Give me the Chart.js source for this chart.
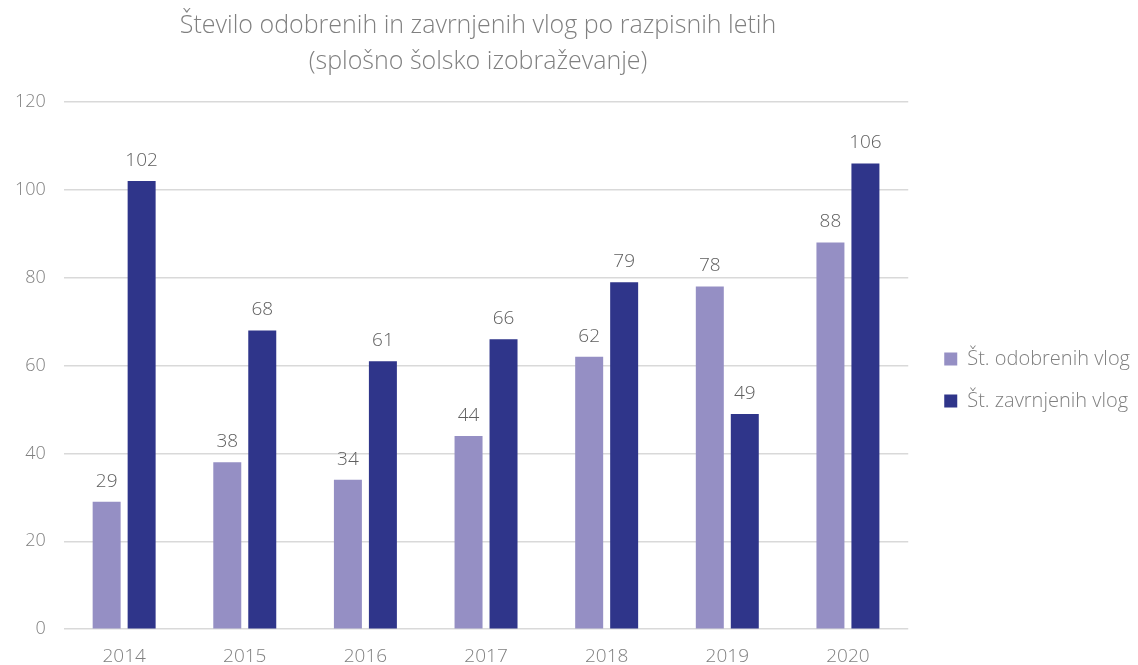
<!DOCTYPE html>
<html>
<head>
<meta charset="utf-8">
<script src="https://cdn.jsdelivr.net/npm/chart.js@4"></script>
<style>
  html, body { margin:0; padding:0; background:#fff; }
  #wrap { width:1138px; height:665px; }
</style>
</head>
<body>
<div id="wrap"><canvas id="chart" width="1138" height="665"></canvas></div>
<script>
const years = ["2014","2015","2016","2017","2018","2019","2020"];
const odobrene = [29, 38, 34, 44, 62, 78, 88];
const zavrnjene = [102, 68, 61, 66, 79, 49, 106];
const titleLines = ["Število odobrenih in zavrnjenih vlog po razpisnih letih", "(splošno šolsko izobraževanje)"];

const FONT = "'Open Sans', Lato, sans-serif";

// draws the value above each bar
const valueLabels = {
  id: "valueLabels",
  afterDatasetsDraw(chart){
    const ctx = chart.ctx;
    ctx.save();
    ctx.font = "300 19px " + FONT;
    ctx.fillStyle = "#606060";
    ctx.textAlign = "center";
    ctx.textBaseline = "bottom";
    chart.data.datasets.forEach((ds, i) => {
      chart.getDatasetMeta(i).data.forEach((bar, j) => {
        ctx.fillText(ds.data[j], bar.x, bar.y - 11);
      });
    });
    ctx.restore();
  }
};

// leave a wider gap between plot and legend, drop the legend a bit,
// and nudge the title left like the original
const legendGap = {
  id: "legendGap",
  afterInit(chart){
    const lg = chart.legend;
    const fit = lg.fit;
    lg.fit = function(){ fit.call(this); this.width += 12; };
  },
  afterLayout(chart){
    const lg = chart.legend;
    lg.left += 14;
    lg.top += 38;
    lg.bottom += 38;
    if (chart.titleBlock){
      chart.titleBlock.left -= 8;
      chart.titleBlock.right -= 8;
    }
  }
};

new Chart(document.getElementById("chart"), {
  type: "bar",
  data: {
    labels: years,
    datasets: [
      { label: "Št. odobrenih vlog", data: odobrene, backgroundColor: "#958fc4" },
      { label: "Št. zavrnjenih vlog", data: zavrnjene, backgroundColor: "#2f358a" }
    ]
  },
  options: {
    responsive: false,
    animation: false,
    layout: { padding: { left: -3, right: 0, top: 8, bottom: -11 } },
    datasets: { bar: { categoryPercentage: 0.58, barPercentage: 0.8 } },
    plugins: {
      title: {
        display: true,
        text: titleLines,
        fullSize: false,
        color: "#808080",
        font: { family: FONT, size: 25, weight: 300, lineHeight: 1.44 },
        padding: { top: 0, bottom: 22 }
      },
      legend: {
        position: "right",
        labels: {
          color: "#808080",
          font: { family: FONT, size: 20, weight: 300 },
          boxWidth: 13,
          boxHeight: 13,
          padding: 22
        }
      },
      tooltip: { enabled: false }
    },
    scales: {
      x: {
        grid: { display: false },
        border: { display: false },
        ticks: { color: "#808080", font: { family: FONT, size: 19, weight: 300 }, padding: 8 }
      },
      y: {
        min: 0, max: 120,
        ticks: { stepSize: 20, color: "#808080", font: { family: FONT, size: 18, weight: 300 }, padding: 18 },
        grid: { color: "#d9d9d9", lineWidth: 1.5, drawTicks: false },
        border: { display: false }
      }
    }
  },
  plugins: [valueLabels, legendGap]
});
</script>
</body>
</html>
